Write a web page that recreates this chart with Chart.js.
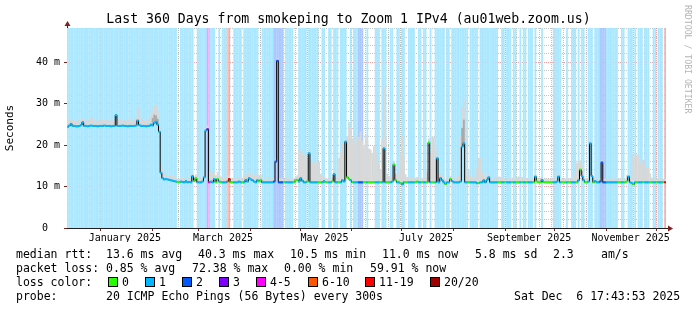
<!DOCTYPE html>
<html>
<head>
<meta charset="utf-8">
<script src="https://cdn.jsdelivr.net/npm/chart.js@4.4.1/dist/chart.umd.min.js"></script>
<style>
  body { margin: 0; background: #fff; }
  #wrap { position: relative; width: 697px; height: 310px; overflow: hidden; }
  #chart { position: absolute; left: 0; top: 0; }
  .txt { position: absolute; font-family: 'DejaVu Sans Mono', monospace; color: #000; white-space: pre; }
  #title { left: 0; top: 11px; width: 697px; text-align: center; font-size: 13.2px; line-height: 16px; }
  #mark { left: 683px; top: 5px; font-size: 8.2px; color: #b4b4b4; writing-mode: vertical-rl; line-height: 9px; }
  .leg { font-size: 11.5px; line-height: 14px; }
  .box { position: absolute; width: 8px; height: 8px; border: 1px solid #000; top: 277px; }
</style>
</head>
<body>
<div id="wrap">
  <canvas id="chart" width="697" height="310"></canvas>
  <div id="title" class="txt">Last 360 Days from smokeping to Zoom 1 IPv4 (au01web.zoom.us)</div>
  <div id="mark" class="txt">RRDTOOL / TOBI OETIKER</div>
  <div id="legend"></div>
</div>
<script>
// 360 days, one value per day (day 0 = Dec 11 2024)
const Y_MAX = 48.2;

// loss class per day: 0 = "0", 1 = "1", 2 = "2", 3 = "3", 4 = "4-5", 5 = "6-10", 6 = "11-19", 7 = "20/20"
const lossByDay = [
  '1111111111', '1111111111', '1111111111', '1111111111', '1111111111', '1111111111',
  '1111110011', '1111110011', '1111341110', '0101115600', '1111101111', '1111100111',
  '1111222222', '0111110001', '1111011111', '1001100110', '1110111100', '1011122200',
  '1000011101', '1100110011', '0110011110', '0110110010', '0111111011', '0111111111',
  '1011111011', '1111111110', '0110111011', '0010110111', '0100010000', '0011111000',
  '1001110101', '1001110111', '2222111111', '1001100111', '0101110111', '0011011106'
].join('').split('').map(Number);

// median rtt (ms) per day
const medianRtt = [
  24.4, 24.7, 25.1, 24.6, 24.6, 24.5, 24.5, 24.6, 24.8, 25.5,
  24.6, 24.6, 24.5, 24.6, 24.7, 24.6, 24.6, 24.6, 24.5, 24.6,
  24.6, 24.6, 24.7, 24.6, 24.6, 24.6, 24.5, 24.6, 24.6, 27.2,
  24.6, 24.6, 24.6, 24.7, 24.6, 24.6, 24.5, 24.6, 24.6, 24.6,
  24.6, 24.7, 25.9, 24.8, 24.6, 24.6, 24.6, 24.5, 24.6, 24.6,
  24.9, 24.7, 25.3, 25.6, 24.9, 23.2, 13.3, 12.0, 11.7, 11.8,
  11.7, 11.6, 11.5, 11.4, 11.3, 11.2, 11.0, 11.0, 11.2, 11.1,
  11.0, 11.3, 11.0, 11.1, 11.0, 12.5, 11.3, 12.0, 11.0, 11.0,
  11.0, 11.2, 12.2, 23.5, 23.8, 11.0, 11.2, 11.0, 11.8, 11.0,
  11.8, 11.2, 11.0, 11.0, 11.0, 11.0, 11.2, 11.8, 11.0, 11.0,
  11.0, 11.0, 11.0, 11.2, 11.0, 11.0, 11.0, 11.6, 11.2, 12.0,
  11.7, 11.5, 11.2, 11.0, 11.5, 11.2, 11.6, 11.0, 11.0, 11.0,
  11.0, 11.0, 11.0, 11.0, 11.2, 16.0, 40.3, 11.0, 11.0, 11.0,
  11.0, 11.0, 11.0, 11.0, 11.0, 11.0, 11.0, 11.5, 11.6, 11.2,
  12.0, 11.4, 11.0, 11.0, 11.2, 18.0, 11.0, 11.0, 11.0, 11.0,
  11.0, 11.0, 11.0, 11.0, 11.3, 11.0, 11.0, 11.0, 11.0, 11.2,
  13.0, 11.0, 11.0, 11.0, 11.0, 11.5, 11.2, 20.8, 12.2, 11.8,
  11.5, 11.0, 11.0, 11.0, 11.0, 11.0, 11.0, 11.0, 11.0, 11.0,
  11.0, 11.0, 11.0, 11.0, 11.0, 11.0, 11.0, 11.0, 11.0, 11.0,
  19.2, 11.0, 11.0, 11.0, 11.0, 11.2, 15.3, 11.5, 11.0, 11.0,
  10.8, 10.5, 11.0, 11.0, 11.0, 11.0, 11.0, 11.0, 11.0, 11.0,
  11.2, 11.0, 11.0, 11.0, 11.0, 11.0, 11.0, 20.6, 11.0, 11.0,
  11.0, 11.0, 16.8, 11.0, 12.0, 11.5, 11.0, 10.6, 11.0, 11.0,
  11.8, 11.3, 11.0, 11.0, 11.0, 11.0, 11.2, 19.6, 20.4, 11.0,
  11.0, 11.0, 11.0, 11.0, 11.0, 11.0, 10.8, 10.8, 11.0, 11.0,
  11.5, 11.0, 11.6, 12.2, 11.0, 11.0, 11.0, 11.0, 11.0, 11.0,
  11.0, 11.0, 11.0, 11.0, 11.0, 11.0, 11.0, 11.0, 11.0, 11.0,
  11.0, 11.0, 11.0, 11.0, 11.0, 11.0, 11.0, 11.0, 11.0, 11.0,
  11.0, 12.4, 11.2, 11.0, 11.0, 11.6, 11.0, 11.0, 11.0, 11.0,
  11.0, 11.0, 11.0, 11.0, 11.2, 12.4, 11.0, 11.0, 11.0, 11.0,
  11.0, 11.0, 11.0, 11.0, 11.0, 11.0, 11.0, 11.5, 14.1, 12.5,
  11.5, 11.0, 11.0, 11.2, 20.4, 12.5, 11.0, 11.3, 11.0, 11.0,
  11.2, 15.8, 11.0, 11.0, 11.0, 11.0, 11.0, 11.0, 11.0, 11.0,
  11.0, 11.0, 11.0, 11.0, 11.0, 11.0, 11.2, 12.4, 11.0, 10.8,
  10.5, 11.0, 11.0, 11.0, 11.0, 11.0, 11.0, 11.0, 11.0, 11.0,
  11.0, 11.0, 11.0, 11.0, 11.0, 11.0, 11.0, 11.0, 11.0, 11.0
];

// top of the smoke (ms) per day
const smokeTop = [
  25.8, 26.0, 26.2, 25.9, 25.8, 25.7, 25.8, 25.9, 26.0, 26.6,
  25.8, 25.8, 25.7, 25.9, 26.6, 26.4, 25.8, 25.8, 25.7, 25.8,
  25.8, 25.9, 25.9, 25.8, 25.8, 25.9, 25.7, 25.8, 26.0, 27.6,
  26.2, 25.8, 25.8, 25.9, 25.8, 25.8, 25.9, 26.5, 25.8, 25.8,
  25.9, 26.4, 29.2, 28.4, 26.4, 25.9, 25.8, 25.8, 25.9, 26.2,
  27.0, 28.2, 29.6, 29.4, 28.0, 25.0, 15.5, 14.0, 12.8, 12.6,
  12.5, 12.6, 12.4, 12.5, 12.3, 12.2, 11.8, 11.7, 12.0, 11.9,
  11.8, 12.2, 11.8, 12.0, 11.8, 13.0, 12.3, 12.8, 11.8, 11.8,
  11.9, 12.2, 13.0, 24.5, 24.6, 13.4, 13.6, 13.0, 13.5, 12.6,
  13.4, 12.6, 12.3, 12.2, 12.0, 12.2, 12.3, 12.6, 11.8, 11.8,
  11.9, 11.8, 12.0, 12.2, 11.9, 11.8, 12.4, 12.8, 12.6, 13.4,
  13.0, 12.6, 12.8, 12.4, 13.0, 12.6, 12.8, 11.8, 11.7, 11.8,
  11.8, 11.7, 11.8, 11.8, 12.0, 16.6, 40.8, 11.9, 11.8, 11.8,
  11.7, 11.8, 11.8, 11.9, 11.8, 11.8, 11.9, 12.4, 12.6, 18.8,
  18.6, 17.8, 17.2, 18.0, 16.4, 18.6, 16.2, 15.4, 15.8, 15.2,
  16.0, 15.8, 13.0, 12.4, 12.2, 11.9, 11.8, 11.9, 11.8, 12.0,
  13.6, 12.0, 11.9, 16.8, 18.2, 20.2, 17.5, 21.4, 22.0, 25.4,
  24.0, 21.5, 20.6, 22.0, 20.4, 21.8, 23.2, 21.0, 19.6, 22.4,
  21.0, 19.0, 18.8, 18.0, 19.6, 18.2, 16.8, 15.4, 14.0, 21.0,
  34.0, 22.0, 13.0, 12.4, 12.2, 12.6, 16.0, 13.0, 12.5, 13.2,
  18.0, 22.0, 17.0, 12.8, 12.2, 12.0, 11.9, 12.0, 11.8, 12.0,
  12.2, 11.9, 11.8, 11.9, 12.0, 12.2, 13.5, 21.5, 18.0, 22.0,
  21.8, 19.2, 17.6, 13.0, 12.8, 12.5, 12.0, 11.6, 11.8, 11.9,
  12.4, 12.0, 11.8, 11.9, 12.0, 12.4, 22.0, 29.0, 31.0, 24.0,
  12.6, 13.8, 12.4, 12.0, 11.9, 12.6, 14.4, 16.8, 16.8, 13.6,
  12.4, 12.0, 12.4, 13.0, 11.8, 11.7, 11.8, 11.9, 12.2, 12.3,
  12.2, 11.9, 11.8, 11.8, 11.7, 11.8, 11.9, 11.8, 11.7, 11.8,
  12.2, 12.3, 12.2, 12.2, 12.0, 11.8, 11.9, 11.8, 11.8, 11.7,
  11.8, 12.8, 12.0, 11.8, 11.8, 12.2, 11.7, 11.8, 11.8, 11.7,
  11.8, 11.8, 11.9, 11.8, 12.0, 13.0, 11.8, 11.7, 11.8, 11.8,
  11.8, 11.9, 11.8, 11.8, 12.4, 13.2, 15.6, 16.0, 16.2, 15.0,
  12.4, 11.8, 11.8, 12.0, 21.0, 13.0, 11.8, 12.0, 11.8, 11.7,
  11.9, 16.3, 11.8, 11.7, 11.8, 11.8, 11.7, 11.8, 11.8, 11.7,
  11.8, 11.7, 11.8, 11.8, 11.7, 11.8, 12.6, 12.8, 12.0, 17.6,
  17.6, 17.0, 17.6, 17.4, 15.5, 16.4, 16.4, 16.0, 14.5, 14.5,
  13.0, 12.0, 11.8, 11.7, 11.8, 11.8, 11.7, 11.8, 11.7, 11.8
];

// darker smoke near the median on a few days
const darkSmokeDays = [51, 52, 53, 54, 237, 238, 308, 309];
const darkSmokeTop = [26.4, 27.2, 27.0, 26.2, 24.0, 26.0, 13.8, 13.6];

const lossLabels = ['0', '1', '2', '3', '4-5', '6-10', '11-19', '20/20'];
const lossColors = ['#26ff00', '#00b8ff', '#0059ff', '#7e00ff', '#ff00ff', '#ff5500', '#ff0000', '#a10000'];
const lossLegendX = [108, 145, 182, 219, 256, 308, 365, 430];

// text rows under the graph: [left, top, text]
const legendRows = [
    [16, 247, 'median rtt:  13.6 ms avg'], [198, 247, '40.3 ms max'], [290, 247, '10.5 ms min'],
    [382, 247, '11.0 ms now'], [475, 247, '5.8 ms sd'], [553, 247, '2.3'], [601, 247, 'am/s'],
    [16, 261, 'packet loss: 0.85 % avg'], [192, 261, '72.38 % max'], [284, 261, '0.00 % min'],
    [370, 261, '59.91 % now'],
    [16, 275, 'loss color:'],
    [16, 289, 'probe:       20 ICMP Echo Pings (56 Bytes) every 300s'], [514, 289, 'Sat Dec  6 17:43:53 2025']
];

// axis: month starts (red grid), first monday (weekly grid), label positions
const monthStarts = [20.26, 51.26, 79.26, 110.26, 140.26, 171.26, 201.26, 232.26, 263.26, 293.26, 324.26, 354.26];
const firstMonday = 4.26;
const monthLabelDays = [34.76, 93.76, 154.76, 215.76, 277.76, 338.76];
const monthLabels = ['January 2025', 'March 2025', 'May 2025', 'July 2025', 'September 2025', 'November 2025'];
const yTickValues = [0, 2, 4, 6, 8, 10, 12, 14, 16, 18, 20, 22, 24, 26, 28, 30, 32, 34, 36, 38, 40, 42, 44, 46, 48];

const GRID = 'rgba(143,143,143,0.55)';
const MGRID = 'rgba(222,79,79,0.55)';
const NONE = 'rgba(0,0,0,0)';

// pale version of the loss colours for the background
function pale(hex) {
    const n = parseInt(hex.slice(1), 16);
    const r = n >> 16, g = (n >> 8) & 255, b = n & 255;
    const a = 0.33;
    return `rgb(${Math.round(255 - a * (255 - r))}, ${Math.round(255 - a * (255 - g))}, ${Math.round(255 - a * (255 - b))})`;
}

// legend text and colour boxes
const legendEl = document.getElementById('legend');
function addText(left, top, text) {
    const t = document.createElement('div');
    t.className = 'txt leg';
    t.style.left = left + 'px';
    t.style.top = top + 'px';
    t.textContent = text;
    legendEl.appendChild(t);
}
legendRows.forEach(r => addText(r[0], r[1], r[2]));
lossLabels.forEach((lab, i) => {
    const box = document.createElement('div');
    box.className = 'box';
    box.style.left = lossLegendX[i] + 'px';
    box.style.background = lossColors[i];
    legendEl.appendChild(box);
    addText(lossLegendX[i] + 14, 275, lab);
});

const xTickValues = [];
for (let d = firstMonday; d < 360; d += 7) {
    if (!monthStarts.some(m => Math.abs(m - d) < 0.01)) xTickValues.push(d);
}
monthStarts.forEach(m => xTickValues.push(m));
monthLabelDays.forEach(m => xTickValues.push(m));
xTickValues.sort((a, b) => a - b);

const isMonth = v => monthStarts.indexOf(v) >= 0;
const labelIndex = v => monthLabelDays.indexOf(v);

// arrows at the end of the axes
const axisArrows = {
    id: 'axisArrows',
    afterDraw(chart) {
        const { ctx, chartArea: a } = chart;
        const lx = a.left + 0.5, by = a.bottom + 0.5;
        ctx.save();
        ctx.strokeStyle = '#1f1f1f';
        ctx.lineWidth = 1;
        ctx.beginPath();
        ctx.moveTo(lx, a.top); ctx.lineTo(lx, a.top - 3);
        ctx.moveTo(a.right, by); ctx.lineTo(a.right + 3, by);
        ctx.stroke();
        ctx.fillStyle = '#7f1f1f';
        ctx.beginPath();
        ctx.moveTo(lx - 3, a.top - 2); ctx.lineTo(lx + 3, a.top - 2); ctx.lineTo(lx, a.top - 7);
        ctx.closePath(); ctx.fill();
        ctx.beginPath();
        ctx.moveTo(a.right + 2, by - 3); ctx.lineTo(a.right + 2, by + 3); ctx.lineTo(a.right + 7, by);
        ctx.closePath(); ctx.fill();
        ctx.restore();
    }
};

const monoFont = { family: 'DejaVu Sans Mono', size: 10 };
const barBase = { type: 'bar', borderWidth: 0, grouped: false, barPercentage: 1, categoryPercentage: 1, inflateAmount: 0.5 };

new Chart(document.getElementById('chart'), {
    type: 'line',
    data: {
        datasets: [
            Object.assign({}, barBase, {
                label: 'loss',
                data: lossByDay.map((c, i) => ({ x: i + 0.5, y: c > 0 ? Y_MAX : null })),
                backgroundColor: lossByDay.map(c => pale(lossColors[c])),
                order: 10
            }),
            Object.assign({}, barBase, {
                label: 'smoke',
                data: smokeTop.map((v, i) => ({ x: i + 0.5, y: [medianRtt[i], v] })),
                backgroundColor: '#d8d8d8',
                order: 9
            }),
            Object.assign({}, barBase, {
                label: 'smoke dark',
                data: darkSmokeDays.map((d, k) => ({ x: d + 0.5, y: [medianRtt[d], darkSmokeTop[k]] })),
                backgroundColor: '#a9a9a9',
                order: 8
            }),
            {
                label: 'median',
                data: medianRtt.map((v, i) => ({ x: i + 0.5, y: v })),
                stepped: 'middle',
                borderColor: '#000000',
                borderWidth: 1,
                pointRadius: 0,
                fill: false,
                order: 2
            },
            {
                label: 'median loss color',
                data: medianRtt.map((v, i) => ({ x: i + 0.5, y: v })),
                showLine: false,
                pointStyle: 'line',
                pointRadius: 1.1,
                pointBorderWidth: 2,
                pointBorderColor: lossByDay.map(c => lossColors[c]),
                order: 1
            }
        ]
    },
    options: {
        responsive: false,
        animation: false,
        events: [],
        layout: { padding: { left: 0, right: 31, top: 28, bottom: 68 } },
        plugins: {
            legend: { display: false },
            tooltip: { enabled: false },
            title: { display: false }
        },
        scales: {
            x: {
                type: 'linear',
                min: 0,
                max: 360,
                offset: false,
                z: 1,
                afterBuildTicks: s => { s.ticks = xTickValues.map(v => ({ value: v })); },
                afterFit: s => { s.height = 14; },
                grid: {
                    offset: false,
                    lineWidth: 1,
                    color: c => {
                        const v = c.tick ? c.tick.value : null;
                        if (labelIndex(v) >= 0) return NONE;
                        return isMonth(v) ? MGRID : GRID;
                    },
                    drawTicks: true,
                    tickLength: 3,
                    tickColor: c => (c.tick && isMonth(c.tick.value)) ? '#7f1f1f' : NONE
                },
                border: { display: true, color: '#1f1f1f', width: 1, dash: [1, 1] },
                ticks: {
                    autoSkip: false,
                    maxRotation: 0,
                    padding: 1,
                    color: '#000',
                    font: monoFont,
                    callback: v => {
                        const k = labelIndex(v);
                        return k >= 0 ? monthLabels[k] : '';
                    }
                }
            },
            y: {
                type: 'linear',
                min: 0,
                max: Y_MAX,
                z: 1,
                afterBuildTicks: s => { s.ticks = yTickValues.map(v => ({ value: v })); },
                afterFit: s => { s.width = 67; },
                grid: {
                    lineWidth: 1,
                    color: c => {
                        const v = c.tick ? c.tick.value : null;
                        if (v === 0) return NONE;
                        return v % 10 === 0 ? MGRID : GRID;
                    },
                    drawTicks: true,
                    tickLength: 3,
                    tickColor: c => (c.tick && c.tick.value % 10 === 0) ? '#7f1f1f' : NONE
                },
                border: { display: true, color: '#1f1f1f', width: 1, dash: [1, 1] },
                ticks: {
                    autoSkip: false,
                    padding: 4,
                    color: '#000',
                    font: monoFont,
                    callback: v => v % 10 === 0 ? (v === 0 ? '0  ' : v + ' m') : ''
                },
                title: {
                    display: true,
                    text: 'Seconds',
                    color: '#000',
                    font: { family: 'DejaVu Sans Mono', size: 11 },
                    padding: { top: 4, bottom: 0 }
                }
            }
        }
    },
    plugins: [axisArrows]
});
</script>
</body>
</html>
